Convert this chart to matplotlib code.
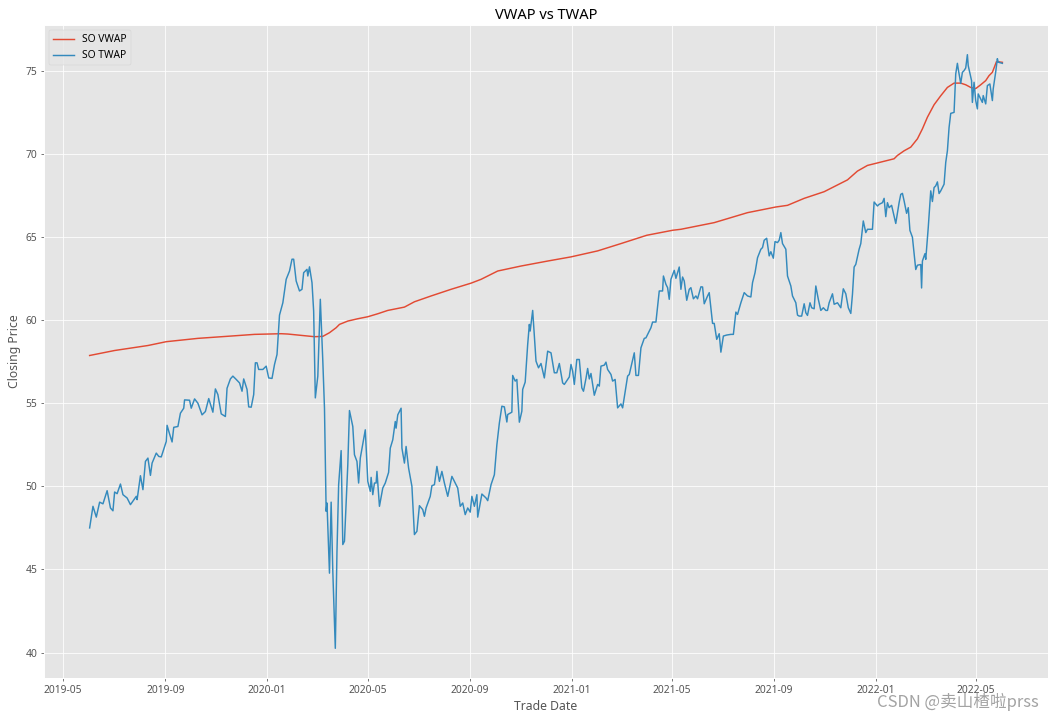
import matplotlib
matplotlib.use("Agg")
import matplotlib.pyplot as plt
import matplotlib.dates as mdates
import pandas as pd

# ---------------- data ----------------
base_date = "2019-05-01"

twap_days = [32, 36, 40, 44, 48, 53, 57, 60, 62, 65, 69, 72, 77, 81, 88, 89, 93, 96, 99, 102,
             105, 107, 112, 115, 118, 124, 125, 128, 131, 133, 138, 141, 145, 146, 152, 154, 158, 162, 167, 171,
             175, 180, 183, 186, 190, 195, 197, 201, 204, 208, 212, 215, 217, 221, 223, 226, 229, 231, 233, 235,
             240, 244, 247, 251, 254, 257, 260, 264, 268, 272, 275, 277, 280, 284, 287, 289, 293, 294, 296, 299,
             301, 303, 306, 309, 312, 314, 316, 317, 320, 322, 324, 327, 329, 331, 334, 336, 338, 342, 344, 348,
             350, 353, 355, 357, 363, 366, 369, 370, 372, 374, 376, 377, 380, 384, 387, 391, 393, 396, 399, 400,
             402, 406, 407, 410, 412, 415, 419, 422, 425, 428, 432, 434, 436, 441, 443, 446, 449, 452, 455, 458,
             462, 467, 470, 474, 477, 480, 483, 486, 489, 491, 494, 497, 498, 503, 508, 510, 514, 518, 521, 524,
             527, 530, 533, 534, 539, 540, 543, 545, 548, 551, 552, 555, 558, 560, 561, 564, 568, 571, 574, 578,
             582, 586, 590, 593, 596, 600, 602, 608, 610, 612, 614, 617, 620, 623, 625, 628, 630, 632, 634, 638,
             642, 644, 646, 650, 652, 654, 658, 660, 663, 666, 670, 672, 678, 680, 686, 688, 691, 694, 698, 700,
             706, 708, 712, 716, 720, 721, 724, 726, 728, 730, 734, 736, 740, 742, 744, 746, 749, 752, 754, 757,
             760, 762, 766, 768, 770, 774, 776, 780, 782, 785, 788, 790, 793, 797, 802, 805, 808, 810, 814, 818,
             822, 826, 828, 831, 834, 838, 840, 842, 845, 848, 850, 853, 855, 858, 860, 862, 864, 868, 870, 874,
             876, 880, 882, 884, 887, 890, 892, 894, 897, 899, 902, 904, 907, 910, 913, 916, 918, 920, 924, 926,
             930, 934, 937, 940, 943, 946, 948, 950, 952, 956, 958, 961, 964, 966, 972, 974, 978, 980, 984, 986,
             988, 990, 992, 995, 998, 1000, 1004, 1006, 1008, 1010, 1013, 1015, 1017, 1020, 1022, 1024, 1026, 1030, 1031, 1032,
             1035, 1036, 1039, 1041, 1042, 1044, 1046, 1048, 1050, 1052, 1054, 1058, 1060, 1062, 1064, 1066, 1070, 1072, 1074, 1075,
             1078, 1080, 1082, 1084, 1086, 1087, 1091, 1092, 1094, 1096, 1098, 1099, 1102, 1104, 1105, 1108, 1110, 1113, 1116, 1117,
             1120, 1122, 1123, 1128]

twap_values = [47.5, 48.8, 48.15, 49.05, 48.95, 49.74, 48.7, 48.53, 49.66, 49.56, 50.14, 49.5, 49.3, 48.9, 49.4, 49.2, 50.64, 49.8, 51.5, 51.7,
               50.66, 51.4, 52.0, 51.8, 51.77, 52.7, 53.67, 53.15, 52.67, 53.55, 53.6, 54.4, 54.7, 55.2, 55.18, 54.7, 55.26, 55.0, 54.3, 54.5,
               55.28, 54.46, 55.86, 55.52, 54.36, 54.2, 55.9, 56.46, 56.63, 56.43, 56.22, 55.72, 56.46, 55.83, 54.78, 54.76, 55.52, 57.43, 57.43, 57.03,
               57.03, 57.23, 56.52, 56.49, 57.33, 57.93, 60.3, 61.04, 62.45, 62.95, 63.66, 63.66, 62.35, 61.75, 61.85, 62.85, 63.05, 62.65, 63.2, 62.25,
               60.54, 55.32, 56.63, 61.25, 57.53, 54.7, 48.5, 49.0, 44.78, 49.05, 44.88, 40.26, 46.08, 50.1, 52.15, 46.5, 46.7, 51.3, 54.56, 53.6,
               51.9, 51.5, 50.2, 51.7, 53.4, 50.3, 49.7, 50.54, 49.5, 50.2, 50.2, 50.9, 48.8, 49.9, 50.2, 50.84, 52.3, 52.8, 53.9, 53.5,
               54.3, 54.7, 52.3, 51.4, 52.4, 51.1, 50.0, 47.1, 47.3, 48.84, 48.6, 48.2, 48.7, 49.4, 50.04, 50.1, 51.2, 50.3, 50.9, 50.2,
               49.4, 50.6, 50.3, 49.9, 48.8, 49.0, 48.3, 48.7, 48.45, 49.4, 48.8, 49.5, 48.15, 49.54, 49.3, 49.14, 50.1, 50.7, 52.5, 53.81,
               54.82, 54.78, 53.87, 54.32, 54.46, 56.67, 56.33, 56.43, 53.86, 54.52, 55.83, 56.27, 58.53, 59.74, 59.34, 60.58, 57.53, 57.13, 57.39, 56.52,
               58.13, 58.03, 56.83, 56.83, 57.39, 56.22, 56.13, 56.58, 57.33, 56.93, 56.13, 57.63, 57.63, 55.92, 55.72, 56.49, 57.09, 56.46, 56.79, 55.48,
               56.13, 56.03, 57.23, 57.29, 57.47, 57.03, 56.73, 56.33, 56.43, 54.72, 54.96, 54.72, 56.63, 56.73, 58.03, 56.67, 56.67, 58.33, 58.9, 58.93,
               59.54, 59.88, 59.88, 61.75, 61.75, 62.65, 62.15, 61.95, 61.25, 62.45, 62.99, 62.51, 63.19, 61.85, 62.59, 62.35, 61.19, 61.85, 61.95, 61.28,
               61.45, 61.28, 62.0, 61.99, 60.98, 61.45, 61.65, 59.8, 59.8, 58.84, 59.18, 58.07, 59.04, 59.1, 59.14, 59.14, 60.48, 60.34, 61.04, 61.65,
               61.45, 61.39, 62.25, 62.85, 63.75, 64.26, 64.36, 64.8, 64.92, 63.86, 64.11, 63.72, 64.72, 64.66, 64.8, 65.26, 64.6, 64.26, 62.65, 62.05,
               61.45, 61.04, 60.3, 60.24, 60.24, 60.98, 60.44, 60.28, 61.04, 60.74, 60.68, 62.05, 61.25, 60.58, 60.74, 60.58, 60.58, 61.04, 61.58, 60.95,
               61.04, 60.74, 61.88, 61.58, 60.74, 60.4, 61.55, 63.19, 63.35, 64.26, 64.6, 65.96, 65.26, 65.46, 65.46, 67.1, 66.86, 66.96, 67.06, 67.32,
               66.22, 67.06, 66.76, 66.9, 66.25, 65.81, 67.06, 67.56, 67.62, 67.17, 66.42, 66.76, 65.39, 64.98, 64.04, 63.04, 63.3, 63.34, 61.93, 63.55,
               63.99, 63.65, 65.56, 67.06, 67.77, 67.13, 67.97, 68.07, 68.31, 67.61, 67.77, 68.17, 69.48, 70.18, 71.58, 72.43, 72.49, 74.8, 75.44, 75.1,
               74.23, 74.9, 75.0, 75.16, 75.96, 75.3, 74.4, 73.09, 74.3, 73.2, 72.7, 73.6, 73.3, 73.09, 73.5, 73.0, 74.1, 74.2, 73.2, 73.9,
               74.92, 75.72, 75.51, 75.44]

vwap_days = [32, 62, 102, 124, 162, 202, 230, 262, 270, 290, 302, 312, 320, 328, 332, 342, 354, 366, 378, 390,
             410, 422, 442, 466, 490, 502, 522, 550, 582, 610, 642, 670, 701, 732, 742, 782, 822, 856, 870, 890,
             914, 942, 954, 966, 978, 998, 1002, 1010, 1018, 1026, 1032, 1038, 1046, 1054, 1062, 1070, 1078, 1084, 1090, 1096,
             1102, 1108, 1112, 1116, 1121, 1128]

vwap_values = [57.87, 58.17, 58.47, 58.7, 58.9, 59.04, 59.14, 59.18, 59.16, 59.06, 59.0, 59.02, 59.24, 59.54, 59.74, 59.94, 60.08, 60.2, 60.38, 60.58,
               60.78, 61.1, 61.45, 61.85, 62.22, 62.45, 62.95, 63.25, 63.55, 63.8, 64.16, 64.6, 65.1, 65.4, 65.46, 65.86, 66.46, 66.8, 66.9, 67.32,
               67.72, 68.43, 68.96, 69.3, 69.45, 69.7, 69.9, 70.18, 70.4, 70.9, 71.5, 72.2, 72.95, 73.49, 73.99, 74.25, 74.25, 74.15, 73.99, 73.92,
               74.15, 74.4, 74.7, 74.9, 75.55, 75.5]

series_labels = ["SO VWAP", "SO TWAP"]
title_text = "VWAP vs TWAP"
xlabel_text = "Trade Date"
ylabel_text = "Closing Price"
watermark_text = "CSDN @卖山楂啦prss"

# ---------------- drawing ----------------
plt.style.use("ggplot")
plt.rcParams["font.family"] = ["Noto Sans", "Noto Sans CJK SC", "DejaVu Sans"]

start = pd.Timestamp(base_date)
twap_dates = start + pd.to_timedelta(twap_days, unit="D")
vwap_dates = start + pd.to_timedelta(vwap_days, unit="D")

dpi = 1054 / 15
fig = plt.figure(figsize=(15, 720 / dpi), dpi=dpi)
ax = fig.add_axes([44 / 1054, 1 - 678 / 720, (1048 - 44) / 1054, (678 - 25) / 720])

ax.plot(vwap_dates, vwap_values, label=series_labels[0])
ax.plot(twap_dates, twap_values, label=series_labels[1])

ax.xaxis.set_major_locator(mdates.MonthLocator(bymonth=[1, 5, 9]))
ax.xaxis.set_major_formatter(mdates.DateFormatter("%Y-%m"))
ax.tick_params(labelsize=10.5)

ax.set_title(title_text, fontsize=15)
ax.set_xlabel(xlabel_text, fontsize=12.5)
ax.set_ylabel(ylabel_text, fontsize=12.5)
ax.legend(loc="upper left", fontsize=10.5)

fig.text(0.986, 0.012, watermark_text, ha="right", va="bottom",
         fontsize=17, color="#8c8c8c", alpha=0.8,
         family=["Noto Sans CJK SC", "DejaVu Sans"])

fig.savefig("out.png", dpi=dpi)
